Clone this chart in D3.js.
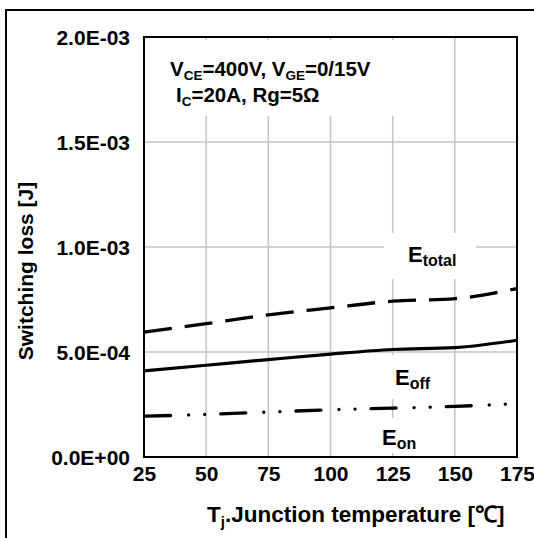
<!DOCTYPE html>
<html><head><meta charset="utf-8">
<script src="https://cdn.jsdelivr.net/npm/d3@7"></script>
<style>
body{margin:0;background:#fff}
svg{display:block}
text{font-family:"Liberation Sans",Arial,Helvetica,sans-serif;font-weight:bold;fill:#000}
</style>
</head><body>
<svg id="c" width="534" height="538"></svg>
<script>
// ---- data ----
const temps = [25, 50, 75, 100, 125, 150, 175];
const eTotal = [0.595e-3, 0.635e-3, 0.677e-3, 0.710e-3, 0.742e-3, 0.754e-3, 0.802e-3];
const eOff   = [0.410e-3, 0.437e-3, 0.464e-3, 0.490e-3, 0.512e-3, 0.521e-3, 0.556e-3];
const eOn    = [0.194e-3, 0.203e-3, 0.214e-3, 0.225e-3, 0.233e-3, 0.241e-3, 0.254e-3];
const xTicks = [25, 50, 75, 100, 125, 150, 175];
const yTicks = [0, 5e-4, 1e-3, 1.5e-3, 2e-3];
const yTickLabels = ["0.0E+00", "5.0E-04", "1.0E-03", "1.5E-03", "2.0E-03"];

const svg = d3.select("#c");
const m = {l:144, t:37, r:517, b:457};
const x = d3.scaleLinear().domain([25, 175]).range([m.l, m.r]);
const y = d3.scaleLinear().domain([0, 2e-3]).range([m.b, m.t]);

// outer frame
svg.append("rect").attr("x", 6).attr("y", 10).attr("width", 540).attr("height", 540)
  .attr("fill", "none").attr("stroke", "#000").attr("stroke-width", 2);

// gridlines
const grid = svg.append("g").attr("stroke", "#c4c4c4").attr("stroke-width", 1.5);
xTicks.slice(1, -1).forEach(t => grid.append("line")
  .attr("x1", x(t)).attr("x2", x(t)).attr("y1", m.t).attr("y2", m.b));
yTicks.slice(1, -1).forEach(t => grid.append("line")
  .attr("x1", m.l).attr("x2", m.r).attr("y1", y(t)).attr("y2", y(t)));

// white label boxes (hide gridlines)
const boxes = [
  [150, 40, 290, 76],   // annotation
  [384, 233, 92, 46],   // Etotal
  [382, 355, 60, 44],   // Eoff
  [372, 418, 62, 35]    // Eon
];
boxes.forEach(b => svg.append("rect").attr("x", b[0]).attr("y", b[1])
  .attr("width", b[2]).attr("height", b[3]).attr("fill", "#fff"));

// plot border
svg.append("rect").attr("x", m.l).attr("y", m.t).attr("width", m.r - m.l).attr("height", m.b - m.t)
  .attr("fill", "none").attr("stroke", "#000").attr("stroke-width", 2);

// axes
const xa = svg.append("g").attr("transform", `translate(0,${m.b})`)
  .call(d3.axisBottom(x).tickValues(xTicks).tickSize(0).tickPadding(9).tickFormat(d3.format("d")));
xa.select(".domain").remove();
xa.selectAll("text").style("font-size", "21px");

const ya = svg.append("g").attr("transform", `translate(${m.l},0)`)
  .call(d3.axisLeft(y).tickValues(yTicks).tickSize(0).tickPadding(14)
    .tickFormat((d, i) => yTickLabels[i]));
ya.select(".domain").remove();
ya.selectAll("text").style("font-size", "21px").attr("dy", "0.36em");

// axis titles
const xt = svg.append("text").attr("x", 207).attr("y", 522).style("font-size", "22.5px");
xt.append("tspan").text("T");
xt.append("tspan").attr("dy", 5).style("font-size", "15px").text("j");
xt.append("tspan").attr("dy", -5).text(".Junction temperature [℃]");

svg.append("text").attr("transform", "translate(33,271) rotate(-90)")
  .attr("text-anchor", "middle").style("font-size", "21px").text("Switching loss [J]");

// annotation
function subText(xp, yp, parts, size, subSize) {
  const t = svg.append("text").attr("x", xp).attr("y", yp).style("font-size", size + "px");
  let shifted = false;
  parts.forEach(p => {
    const s = t.append("tspan").text(p[0]);
    if (p[1] && !shifted) { s.attr("dy", 4).style("font-size", subSize + "px"); shifted = true; }
    else if (!p[1] && shifted) { s.attr("dy", -4); shifted = false; }
  });
  return t;
}
subText(170, 76, [["V"],["CE",1],["=400V, V"],["GE",1],["=0/15V"]], 20.5, 13.5);
subText(176, 102, [["I"],["C",1],["=20A, Rg=5Ω"]], 20.5, 13.5);

// series labels
subText(408, 262, [["E"],["total",1]], 22, 16);
subText(395, 385, [["E"],["off",1]], 22, 16);
subText(382, 445, [["E"],["on",1]], 22, 16);

// curves
const line = d3.line().x((d, i) => x(temps[i])).y(d => y(d)).curve(d3.curveMonotoneX);
svg.append("path").datum(eTotal).attr("d", line).attr("fill", "none")
  .attr("stroke", "#000").attr("stroke-width", 3.3).attr("stroke-dasharray", "28,13");
svg.append("path").datum(eOff).attr("d", line).attr("fill", "none")
  .attr("stroke", "#000").attr("stroke-width", 3.2);
svg.append("path").datum(eOn).attr("d", line).attr("fill", "none")
  .attr("stroke", "#000").attr("stroke-width", 3.3).attr("stroke-linecap", "round")
  .attr("stroke-dasharray", "25,18,0.1,16,0.1,16").attr("stroke-dashoffset", -1.6);
</script>
</body></html>
